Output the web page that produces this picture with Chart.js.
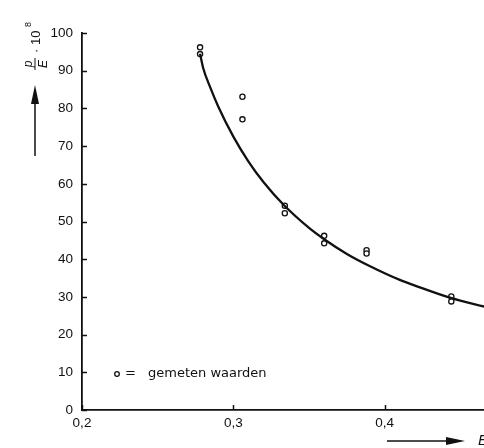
<!DOCTYPE html>
<html>
<head>
<meta charset="utf-8">
<script src="https://cdn.jsdelivr.net/npm/chart.js@4.4.1/dist/chart.umd.min.js"></script>
<style>
  html, body { margin: 0; padding: 0; background: #fff; }
  #wrap { width: 484px; height: 448px; }
</style>
</head>
<body>
<div id="wrap"><canvas id="chart" width="484" height="448"></canvas></div>
<script>
// fitted curve
const curveX = [0.278, 0.280, 0.285, 0.290, 0.300, 0.310, 0.320, 0.333, 0.350, 0.360, 0.375, 0.390, 0.410, 0.420, 0.443, 0.468];
const curveY = [94.5, 90.8, 85.3, 80.5, 72.5, 65.9, 60.4, 54.5, 48.3, 45.3, 41.4, 38.2, 34.5, 33.0, 29.8, 27.2];

// gemeten waarden (measured points)
const measX = [0.278, 0.278, 0.306, 0.306, 0.334, 0.334, 0.360, 0.360, 0.388, 0.388, 0.444, 0.444];
const measY = [96.2, 94.4, 83.1, 77.1, 54.2, 52.2, 46.2, 44.2, 42.4, 41.5, 30.1, 28.8];

const xTicks = [0.2, 0.3, 0.4];
const yTicks = [0, 10, 20, 30, 40, 50, 60, 70, 80, 90, 100];
const legendText = "gemeten waarden";

const INK = "#111";
const tickFont = { family: "Liberation Sans", size: 13.5 };

/* ── decorations: inward ticks, arrows, axis titles, legend ── */
const decor = {
  id: "decor",
  afterDraw(chart) {
    const { ctx, scales: { x, y }, chartArea: a } = chart;
    ctx.save();
    ctx.strokeStyle = INK;
    ctx.fillStyle = INK;
    ctx.lineWidth = 1.5;

    const seg = (x1, y1, x2, y2) => {
      ctx.beginPath(); ctx.moveTo(x1, y1); ctx.lineTo(x2, y2); ctx.stroke();
    };

    yTicks.forEach(v => { const p = Math.round(y.getPixelForValue(v)) + 0.5; seg(a.left, p, a.left + 5, p); });
    xTicks.forEach(v => { const p = Math.round(x.getPixelForValue(v)) + 0.5; seg(p, a.bottom, p, a.bottom - 5); });

    // up arrow next to y title
    seg(35, 156, 35, 100);
    ctx.beginPath(); ctx.moveTo(35, 85); ctx.lineTo(31, 104); ctx.lineTo(39, 104); ctx.closePath(); ctx.fill();

    // right arrow under x axis
    seg(387, 441, 450, 441);
    ctx.beginPath(); ctx.moveTo(465, 441); ctx.lineTo(446, 437); ctx.lineTo(446, 445); ctx.closePath(); ctx.fill();

    // x title (cut off at the edge)
    ctx.font = "italic 15px 'Liberation Sans'";
    ctx.textBaseline = "middle";
    ctx.textAlign = "left";
    ctx.fillText("E", 478, 441);

    // y title: p/E · 10^8, rotated
    ctx.save();
    ctx.translate(35, 64);
    ctx.rotate(-Math.PI / 2);
    ctx.font = "italic 12px 'Liberation Sans'";
    ctx.textAlign = "center";
    ctx.textBaseline = "alphabetic";
    ctx.fillText("p", 0, -3);
    ctx.textBaseline = "top";
    ctx.fillText("E", 0, 3);
    ctx.lineWidth = 1;
    seg(-6, 0, 6, 0);
    ctx.font = "13px 'Liberation Sans'";
    ctx.textAlign = "left";
    ctx.textBaseline = "middle";
    ctx.fillText("· 10", 11, 1);
    ctx.font = "9px 'Liberation Sans'";
    ctx.fillText("8", 37, -6);
    ctx.restore();

    // legend
    ctx.lineWidth = 1.3;
    ctx.beginPath(); ctx.arc(117, 374, 2.3, 0, Math.PI * 2); ctx.stroke();
    ctx.font = "13px 'DejaVu Sans'";
    ctx.textAlign = "left";
    ctx.textBaseline = "middle";
    ctx.fillText("=", 125, 374);
    ctx.fillText(legendText, 148, 374);

    ctx.restore();
  }
};

new Chart(document.getElementById("chart"), {
  type: "scatter",
  data: {
    datasets: [
      {
        label: "curve",
        data: curveX.map((v, i) => ({ x: v, y: curveY[i] })),
        showLine: true,
        borderColor: INK,
        borderWidth: 2.3,
        pointRadius: 0,
        pointHoverRadius: 0,
        cubicInterpolationMode: "monotone",
        fill: false,
      },
      {
        label: legendText,
        data: measX.map((v, i) => ({ x: v, y: measY[i] })),
        pointRadius: 2.6,
        pointBorderWidth: 1.3,
        borderColor: INK,
        backgroundColor: "#fff",
      },
    ],
  },
  options: {
    responsive: false,
    animation: false,
    events: [],
    layout: { autoPadding: false, padding: { top: 33, right: 0, left: 0, bottom: 0 } },
    plugins: { legend: { display: false }, tooltip: { enabled: false } },
    scales: {
      x: {
        type: "linear",
        min: 0.2,
        max: 0.4656,
        grid: { display: false, drawTicks: false },
        border: { display: true, color: INK, width: 1.8 },
        afterBuildTicks: (s) => { s.ticks = xTicks.map(v => ({ value: v })); },
        afterFit: (s) => { s.height = 38; },
        ticks: {
          font: tickFont,
          color: INK,
          padding: 5,
          maxRotation: 0,
          callback: (v) => v.toFixed(1).replace(".", ","),
        },
      },
      y: {
        type: "linear",
        min: 0,
        max: 100,
        grid: { display: false, drawTicks: false },
        border: { display: true, color: INK, width: 1.8 },
        afterBuildTicks: (s) => { s.ticks = yTicks.map(v => ({ value: v })); },
        afterFit: (s) => { s.width = 82; },
        ticks: { font: tickFont, color: INK, padding: 9 },
      },
    },
  },
  plugins: [decor],
});
</script>
</body>
</html>
